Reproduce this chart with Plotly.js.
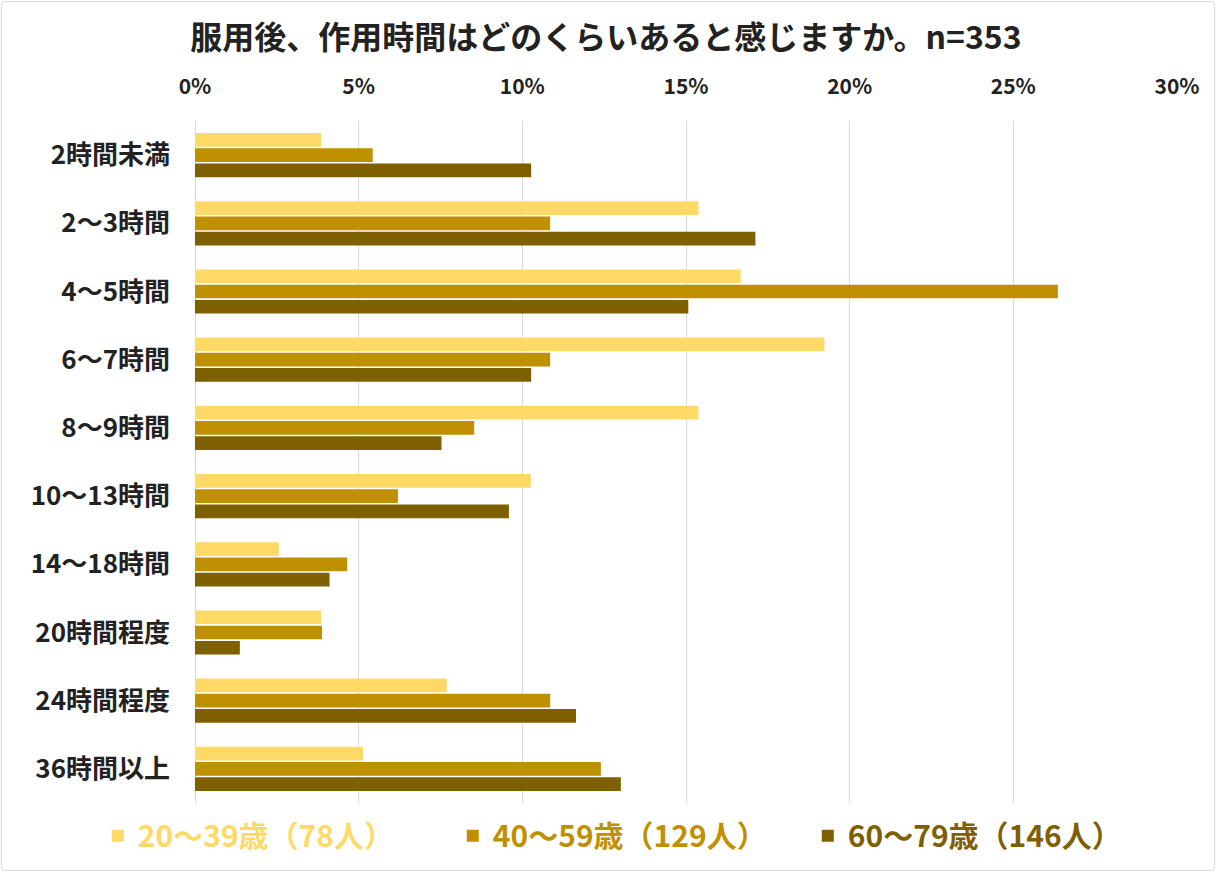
<!DOCTYPE html>
<html>
<head>
<meta charset="utf-8">
<script src="https://cdn.plot.ly/plotly-3.0.1.min.js"></script>
<style>
  html, body { margin: 0; padding: 0; background: #fff; }
  #wrap { position: relative; width: 1224px; height: 874px; }
  #chart { width: 1224px; height: 874px; }
  #frame { position: absolute; left: 1px; top: 1px; width: 1212px; height: 868px; border: 1px solid #d9d9d9; border-radius: 4px; pointer-events: none; }
</style>
</head>
<body>
<div id="wrap">
  <div id="chart"></div>
  <div id="frame"></div>
</div>
<script>
const categories = ['2時間未満', '2～3時間', '4～5時間', '6～7時間', '8～9時間', '10～13時間', '14～18時間', '20時間程度', '24時間程度', '36時間以上'];
const seriesNames = ['20～39歳（78人）', '40～59歳（129人）', '60～79歳（146人）'];
const seriesColors = ['#FFD966', '#BF9000', '#7F6000'];
// percentages
const age20_39 = [3.85, 15.38, 16.67, 19.23, 15.38, 10.26, 2.56, 3.85, 7.69, 5.13];
const age40_59 = [5.43, 10.85, 26.36, 10.85, 8.53, 6.20, 4.65, 3.88, 10.85, 12.40];
const age60_79 = [10.27, 17.12, 15.07, 10.27, 7.53, 9.59, 4.11, 1.37, 11.64, 13.01];
const tickVals = [0, 5, 10, 15, 20, 25, 30];
const tickText = ['0%', '5%', '10%', '15%', '20%', '25%', '30%'];
const titleText = '服用後、作用時間はどのくらいあると感じますか。n=353';

const allValues = [age20_39, age40_59, age60_79];
const FONT = '"Noto Sans CJK JP", "Noto Sans", sans-serif';

const traces = allValues.map((vals, i) => ({
  type: 'bar',
  orientation: 'h',
  x: vals,
  y: categories,
  name: '<b><span style="color:' + seriesColors[i] + '">' + seriesNames[i] + '</span></b>',
  marker: { color: seriesColors[i] },
  hoverinfo: 'x+y'
}));

const layout = {
  width: 1224,
  height: 874,
  paper_bgcolor: '#ffffff',
  plot_bgcolor: '#ffffff',
  font: { family: FONT, color: '#222222' },
  margin: { l: 195, r: 47, t: 121, b: 69 },
  title: {
    text: '<b>' + titleText + '</b>',
    font: { family: FONT, size: 32, color: '#222222' },
    x: 0.495, xanchor: 'center',
    y: 1 - 38 / 874, yanchor: 'middle',
    xref: 'container', yref: 'container'
  },
  barmode: 'group',
  bargap: 0.33,
  bargroupgap: 0.1,
  xaxis: {
    side: 'top',
    range: [0, 30],
    tickvals: tickVals,
    ticktext: tickText.map(t => '<b>' + t + '</b>'),
    tickfont: { family: FONT, size: 21, color: '#222222' },
    showgrid: true,
    gridcolor: '#d9d9d9',
    gridwidth: 1,
    zeroline: true,
    zerolinecolor: '#d9d9d9',
    showline: false,
    ticks: '',
    ticklabelstandoff: 22,
    fixedrange: true
  },
  yaxis: {
    autorange: 'reversed',
    type: 'category',
    tickvals: categories,
    ticktext: categories.map(c => '<b>' + c + '</b>'),
    tickfont: { family: FONT, size: 26, color: '#222222' },
    showgrid: false,
    showline: false,
    ticks: '',
    ticklabelstandoff: 24,
    fixedrange: true
  },
  showlegend: true,
  legend: {
    orientation: 'h',
    x: -0.099, xanchor: 'left',
    y: -0.048, yanchor: 'middle',
    font: { family: FONT, size: 30 },
    entrywidth: 310,
    entrywidthmode: 'pixels',
    traceorder: 'normal',
    itemclick: false,
    itemdoubleclick: false
  }
};

Plotly.newPlot('chart', traces, layout, { displayModeBar: false });
</script>
</body>
</html>
